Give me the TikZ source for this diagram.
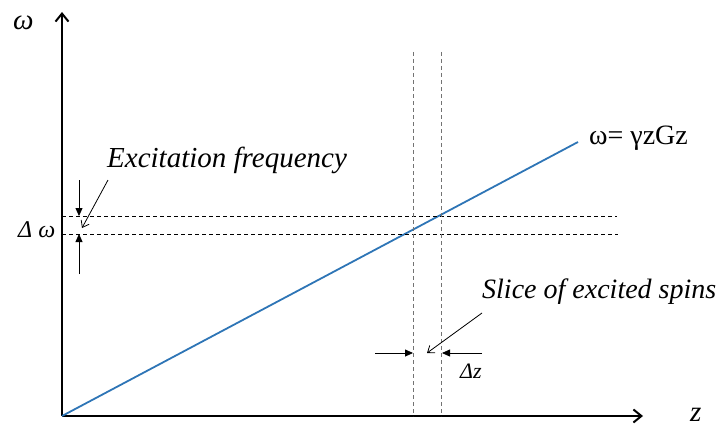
\documentclass[tikz,border=0pt]{standalone}
\usepackage{fontspec}
\setmainfont{Liberation Serif}
\usetikzlibrary{arrows.meta,positioning}

\begin{document}
\begin{tikzpicture}[x=1pt, y=-1pt, >=Stealth,
  axis/.style={line width=2pt, -{Straight Barb[length=8pt,width=13pt,line width=2pt]}},
  guide/.style={line width=0.9pt, dash pattern=on 4pt off 3pt},
  slicel/.style={guide, draw=black!55},
  pin/.style={line width=0.8pt, -{Triangle[length=8pt,width=7pt]}},
  callout/.style={line width=0.8pt, -{Straight Barb[length=6pt,width=9pt]}},
  lbl/.style={inner sep=0pt, anchor=base west, font=\fontsize{29}{33}\selectfont\itshape}]
  \useasboundingbox (0,0) rectangle (728,428);
  % axes
  \coordinate (o) at (62,416);
  \coordinate (wtip) at (62,12);
  \coordinate (ztip) at (643,416);
  \draw[axis] (o) -- (wtip);
  \draw[axis] (o) -- (ztip);
  \node[lbl] (wl) at (13,30) {ω};
  \node[lbl] (zl) at (690,421) {z};
  % resonance line
  \coordinate (lend) at (578,142);
  \draw[line width=1.8pt, draw={rgb,255:red,46;green,117;blue,182}] (o) -- (lend);
  \node[lbl, font=\fontsize{28}{32}\selectfont] (eq) at (589,144) {ω= γzGz};
  % excitation band
  \coordinate (bt0) at (62,216); \coordinate (bt1) at (617,216);
  \coordinate (bb0) at (62,234); \coordinate (bb1) at (618,234);
  \draw[guide] (bt0) -- (bt1); \draw[guide] (bb0) -- (bb1);
  \coordinate (pa) at (79,180); \coordinate (pa') at (79,216);
  \coordinate (pb) at (79,274); \coordinate (pb') at (79,234);
  \draw[pin] (pa) -- (pa'); \draw[pin] (pb) -- (pb');
  \node[lbl, font=\fontsize{24}{28}\selectfont\itshape] (dw) at (18,237) {Δ ω};
  \node[lbl] (ex) at (107,167) {Excitation frequency};
  \coordinate (exa) at (108,180); \coordinate (exb) at (82,228);
  \draw[callout] (exa) -- (exb);
  % slice
  \coordinate (sl0) at (413,52); \coordinate (sl0') at (413,416);
  \coordinate (sl1) at (441,52); \coordinate (sl1') at (441,416);
  \draw[slicel] (sl0) -- (sl0'); \draw[slicel] (sl1) -- (sl1');
  \coordinate (qa) at (375,353); \coordinate (qa') at (413,353);
  \coordinate (qb) at (482,353); \coordinate (qb') at (442,353);
  \draw[pin] (qa) -- (qa'); \draw[pin] (qb) -- (qb');
  \node[lbl, font=\fontsize{22}{26}\selectfont\itshape] (dz) at (460,378) {Δz};
  \node[lbl, font=\fontsize{28}{32}\selectfont\itshape] (sp) at (482,298) {Slice of excited spins};
  \coordinate (spa) at (482,313); \coordinate (spb) at (427,353);
  \draw[callout] (spa) -- (spb);
\end{tikzpicture}
\end{document}
